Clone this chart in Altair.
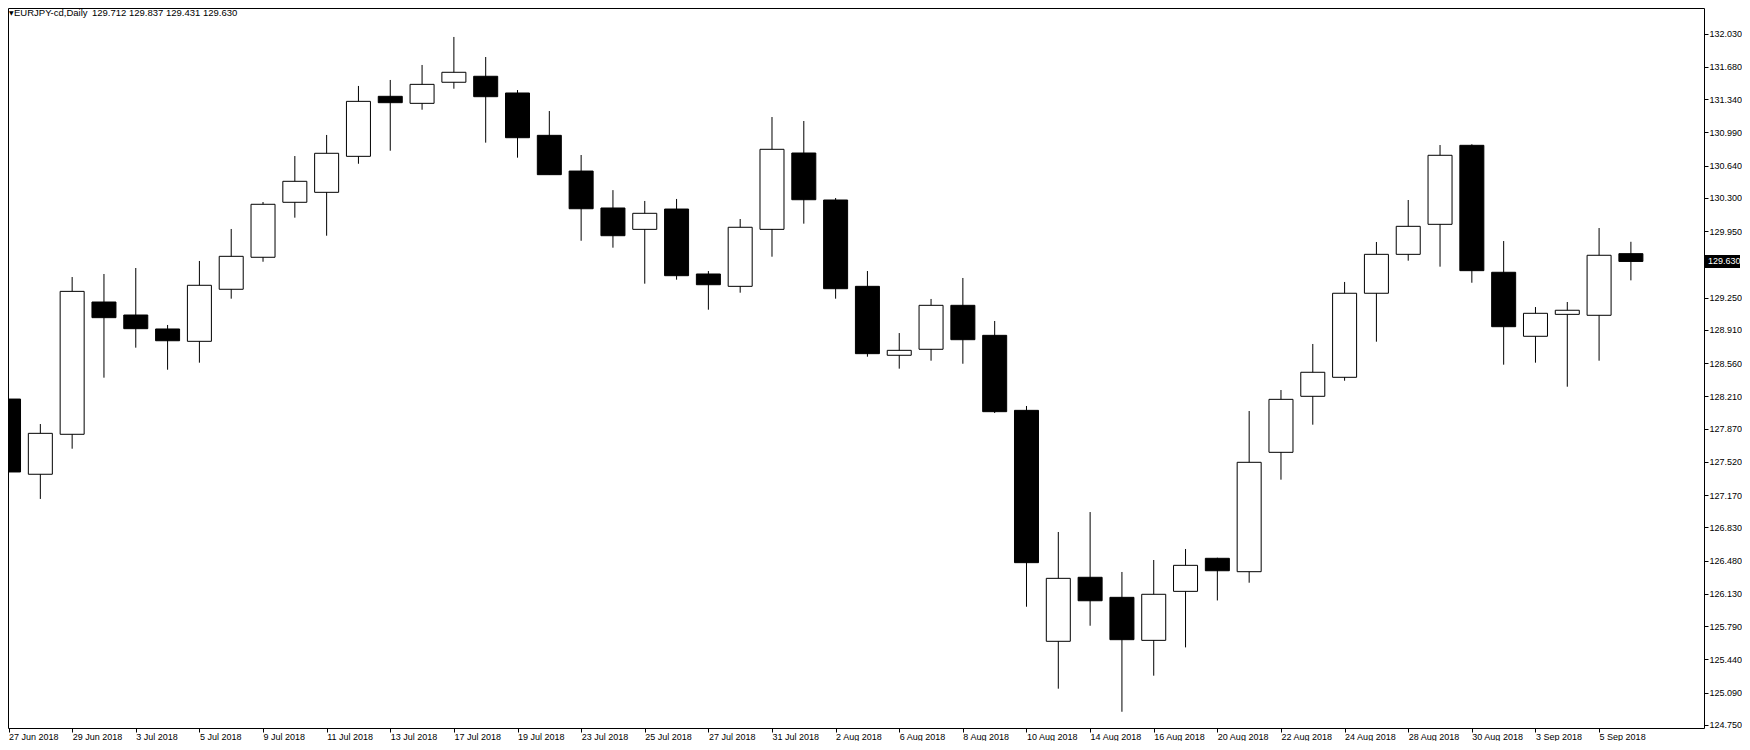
import altair as alt
import pandas as pd

# ---- data (EURJPY daily) ----
dates = ["27 Jun", "28 Jun", "29 Jun", "2 Jul", "3 Jul", "4 Jul", "5 Jul", "6 Jul",
         "9 Jul", "10 Jul", "11 Jul", "12 Jul", "13 Jul", "16 Jul", "17 Jul", "18 Jul",
         "19 Jul", "20 Jul", "23 Jul", "24 Jul", "25 Jul", "26 Jul", "27 Jul", "30 Jul",
         "31 Jul", "1 Aug", "2 Aug", "3 Aug", "6 Aug", "7 Aug", "8 Aug", "9 Aug",
         "10 Aug", "13 Aug", "14 Aug", "15 Aug", "16 Aug", "17 Aug", "20 Aug", "21 Aug",
         "22 Aug", "23 Aug", "24 Aug", "27 Aug", "28 Aug", "29 Aug", "30 Aug", "31 Aug",
         "3 Sep", "4 Sep", "5 Sep", "6 Sep"]

opens = [128.181, 127.389, 127.810, 129.203, 129.066, 128.919, 128.789, 129.337,
         129.674, 130.253, 130.358, 130.737, 131.369, 131.295, 131.517, 131.580,
         131.404, 130.958, 130.582, 130.193, 129.968, 130.182, 129.498, 129.368,
         129.968, 130.772, 130.277, 129.368, 128.642, 128.705, 129.168, 128.852,
         128.062, 125.630, 126.304, 126.093, 125.640, 126.156, 126.504, 126.363,
         127.620, 128.210, 128.410, 129.295, 129.705, 130.021, 130.853, 129.516,
         128.842, 129.073, 129.063, 129.712]

highs = [128.339, 127.918, 129.466, 129.498, 129.561, 128.961, 129.635, 129.972,
         130.256, 130.740, 130.962, 131.478, 131.541, 131.699, 131.994, 131.783,
         131.435, 131.214, 130.751, 130.381, 130.267, 130.288, 129.529, 130.077,
         131.151, 131.109, 130.298, 129.529, 128.876, 129.235, 129.456, 129.003,
         128.108, 126.781, 126.991, 126.360, 126.486, 126.602, 126.510, 128.055,
         128.276, 128.761, 129.414, 129.835, 130.277, 130.856, 130.864, 129.845,
         129.150, 129.203, 129.982, 129.837]

lows = [127.244, 127.129, 127.658, 128.406, 128.722, 128.490, 128.564, 129.238,
        129.627, 130.091, 129.901, 130.659, 130.796, 131.228, 131.449, 130.881,
        130.723, 130.544, 129.848, 129.775, 129.396, 129.438, 129.122, 129.301,
        129.680, 130.028, 129.238, 128.627, 128.501, 128.585, 128.553, 128.034,
        125.994, 125.131, 125.794, 124.888, 125.268, 125.566, 126.060, 126.247,
        127.332, 127.911, 128.374, 128.785, 129.638, 129.575, 129.406, 128.543,
        128.564, 128.311, 128.585, 129.431]

closes = [127.413, 127.820, 129.315, 129.038, 128.922, 128.795, 129.379, 129.684,
          130.232, 130.474, 130.769, 131.316, 131.302, 131.495, 131.622, 131.365,
          130.933, 130.544, 130.185, 129.901, 130.137, 129.480, 129.385, 129.990,
          130.811, 130.280, 129.343, 128.659, 128.694, 129.168, 128.806, 128.048,
          126.458, 126.293, 126.057, 125.647, 126.125, 126.430, 126.373, 127.515,
          128.178, 128.463, 129.295, 129.705, 130.000, 130.748, 129.533, 128.943,
          129.084, 129.116, 129.695, 129.630]

price_ticks = [132.03, 131.68, 131.34, 130.99, 130.64, 130.30, 129.95, 129.25,
               128.91, 128.56, 128.21, 127.87, 127.52, 127.17, 126.83, 126.48,
               126.13, 125.79, 125.44, 125.09, 124.75]

header_symbol = "EURJPY-cd,Daily"
header_ohlc = "129.712 129.837 129.431 129.630"
last_price_label = "129.630"

# ---- table ----
df = pd.DataFrame({
    "i": list(range(len(dates))),
    "date": dates,
    "open": opens,
    "high": highs,
    "low": lows,
    "close": closes,
})

FONT = "Liberation Sans"
W, H = 1696, 720
X_DOMAIN = [0.140625, 0.140625 + W / 32.0]
Y_DOMAIN = [124.717, 132.299]

label_array = "[" + ",".join("'%s 2018'" % d for d in dates) + "]"

x_scale = alt.Scale(domain=X_DOMAIN, nice=False, zero=False)
y_scale = alt.Scale(domain=Y_DOMAIN, nice=False, zero=False)

x_axis = alt.Axis(
    values=list(range(0, len(dates), 2)),
    labelExpr=label_array + "[datum.value]",
    labelAlign="left", labelBaseline="top", labelPadding=0,
    labelFlush=False, labelOverlap=False,
    tickSize=4, tickColor="black", tickWidth=1,
    domain=False, grid=False, title=None,
    labelFont=FONT, labelFontSize=9, labelColor="black",
)
y_axis = alt.Axis(
    values=price_ticks, format=".3f", orient="right",
    labelAlign="left", labelBaseline="middle", labelPadding=1,
    labelOverlap=False, labelFlush=False,
    tickSize=4, tickColor="black", tickWidth=1,
    domain=False, grid=False, title=None,
    labelFont=FONT, labelFontSize=9, labelColor="black",
)

base = alt.Chart(df)

wicks = base.mark_rule(color="black", strokeWidth=1, clip=True).encode(
    x=alt.X("i:Q", scale=x_scale, axis=x_axis),
    y=alt.Y("low:Q", scale=y_scale, axis=y_axis),
    y2="high:Q",
)

bodies = base.mark_bar(size=24, stroke="black", strokeWidth=1, clip=True).encode(
    x=alt.X("i:Q", scale=x_scale, axis=x_axis),
    y=alt.Y("open:Q", scale=y_scale, axis=y_axis),
    y2="close:Q",
    fill=alt.condition("datum.close > datum.open", alt.value("white"), alt.value("black")),
)

last = pd.DataFrame({"close": [closes[-1]], "label": [last_price_label]})
price_box = alt.Chart(last).mark_tick(
    orient="horizontal", thickness=13, size=35, color="black", opacity=1
).encode(
    x=alt.value(W + 18.5),
    y=alt.Y("close:Q", scale=y_scale, axis=y_axis),
)
price_text = alt.Chart(last).mark_text(
    align="left", baseline="middle", color="white", font=FONT, fontSize=9
).encode(
    x=alt.value(W + 4),
    y=alt.Y("close:Q", scale=y_scale, axis=y_axis),
    text="label:N",
)

hdr = pd.DataFrame({"sym": [header_symbol], "ohlc": [header_ohlc], "tri": ["\u25bc"]})
hdr_tri = alt.Chart(hdr).mark_text(
    align="left", baseline="alphabetic", color="black", font="DejaVu Sans", fontSize=6
).encode(x=alt.value(1), y=alt.value(7), text="tri:N")
hdr_sym = alt.Chart(hdr).mark_text(
    align="left", baseline="alphabetic", color="black", font=FONT, fontSize=9.5
).encode(x=alt.value(6), y=alt.value(8), text="sym:N")
hdr_ohlc = alt.Chart(hdr).mark_text(
    align="left", baseline="alphabetic", color="black", font=FONT, fontSize=9.5
).encode(x=alt.value(84), y=alt.value(8), text="ohlc:N")

chart = alt.layer(
    wicks, bodies, price_box, price_text, hdr_tri, hdr_sym, hdr_ohlc
).properties(
    width=W, height=H,
    autosize=alt.AutoSizeParams(type="none"),
    padding={"left": 0, "top": 0, "right": 38, "bottom": 13},
    background="white",
).configure_view(
    stroke="black", strokeWidth=1
)

chart.save("out.html", embed_options={"renderer": "svg", "actions": False})
